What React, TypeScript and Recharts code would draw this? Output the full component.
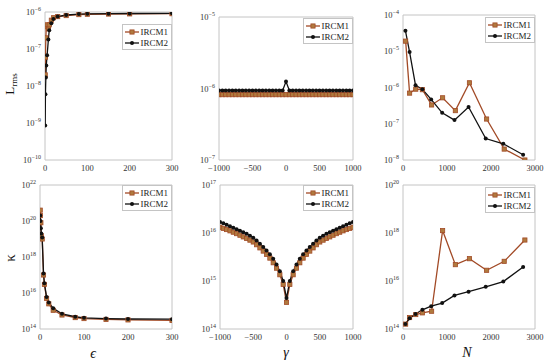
import React from "react"
import { LineChart, Line, XAxis, YAxis, ReferenceArea } from "recharts"

const FONT = "'Liberation Serif', 'Times New Roman', serif"
const C1 = "#a24a26"
const C1_FILL = "#b07a3e"
const C2 = "#111111"
const BOX = "#c4c4c4"

// epsilon sweep (left column)
const epsValues = [0.5, 1, 2, 3, 5, 8, 10, 15, 20, 30, 50, 80, 100, 150, 200, 300]
const lrmsEpsIRCM1 = [2e-8, 6e-8, 2e-7, 4e-7, 4.5e-7, 3.5e-7, 4.5e-7, 6e-7, 7e-7, 7.5e-7, 8e-7, 8.5e-7, 8.7e-7, 8.8e-7, 8.9e-7, 9e-7]
const lrmsEpsIRCM2 = [8.5e-10, 6e-9, 1.7e-8, 3.6e-8, 6.8e-8, 1.8e-7, 3.2e-7, 5e-7, 6.5e-7, 7.5e-7, 8.3e-7, 8.8e-7, 8.9e-7, 9e-7, 9.1e-7, 9.2e-7]
const kappaEpsIRCM1 = [4e20, 2e20, 8e19, 1.5e19, 1e19, 1e17, 3e16, 5e15, 2.5e15, 1.1e15, 6e14, 4.3e14, 3.8e14, 3.4e14, 3.2e14, 3e14]
const kappaEpsIRCM2 = [2e20, 1e20, 4e19, 2e19, 1.2e19, 1.2e17, 3.5e16, 6e15, 3e15, 1.4e15, 7e14, 4.8e14, 4.2e14, 3.8e14, 3.6e14, 3.5e14]

// gamma sweep (middle column)
const gammaValues = [
  -1000, -950, -900, -850, -800, -750, -700, -650, -600, -550, -500, -450, -400, -350, -300, -250, -200, -150, -100, -50,
  0, 50, 100, 150, 200, 250, 300, 350, 400, 450, 500, 550, 600, 650, 700, 750, 800, 850, 900, 950, 1000,
]
const lrmsGammaIRCM1 = [
  8.2e-7, 8.2e-7, 8.2e-7, 8.2e-7, 8.2e-7, 8.2e-7, 8.2e-7, 8.2e-7, 8.2e-7, 8.2e-7, 8.2e-7, 8.2e-7, 8.2e-7, 8.2e-7, 8.2e-7, 8.2e-7, 8.2e-7, 8.2e-7, 8.2e-7, 8.2e-7,
  8.2e-7, 8.2e-7, 8.2e-7, 8.2e-7, 8.2e-7, 8.2e-7, 8.2e-7, 8.2e-7, 8.2e-7, 8.2e-7, 8.2e-7, 8.2e-7, 8.2e-7, 8.2e-7, 8.2e-7, 8.2e-7, 8.2e-7, 8.2e-7, 8.2e-7, 8.2e-7, 8.2e-7,
]
const lrmsGammaIRCM2 = [
  9.4e-7, 9.4e-7, 9.4e-7, 9.4e-7, 9.4e-7, 9.4e-7, 9.4e-7, 9.4e-7, 9.4e-7, 9.4e-7, 9.4e-7, 9.4e-7, 9.4e-7, 9.4e-7, 9.4e-7, 9.4e-7, 9.4e-7, 9.4e-7, 9.4e-7, 9.4e-7,
  1.25e-6, 9.4e-7, 9.4e-7, 9.4e-7, 9.4e-7, 9.4e-7, 9.4e-7, 9.4e-7, 9.4e-7, 9.4e-7, 9.4e-7, 9.4e-7, 9.4e-7, 9.4e-7, 9.4e-7, 9.4e-7, 9.4e-7, 9.4e-7, 9.4e-7, 9.4e-7, 9.4e-7,
]
const kappaGammaIRCM1 = [
  1.32e16, 1.25e16, 1.18e16, 1.11e16, 1.04e16, 9.7e15, 9e15, 8.3e15, 7.7e15, 7.1e15, 6.5e15, 5.7e15, 4.9e15, 4.2e15, 3.6e15, 3e15, 2.4e15, 1.85e15, 1.35e15, 8.5e14,
  3.6e14, 8.5e14, 1.35e15, 1.85e15, 2.4e15, 3e15, 3.6e15, 4.2e15, 4.9e15, 5.7e15, 6.5e15, 7.1e15, 7.7e15, 8.3e15, 9e15, 9.7e15, 1.04e16, 1.11e16, 1.18e16, 1.25e16, 1.32e16,
]
const kappaGammaIRCM2 = [
  1.7e16, 1.59e16, 1.48e16, 1.38e16, 1.29e16, 1.2e16, 1.12e16, 1.04e16, 9.6e15, 8.8e15, 8e15, 7e15, 6e15, 5.1e15, 4.3e15, 3.6e15, 2.9e15, 2.2e15, 1.6e15, 1e15,
  4.4e14, 1e15, 1.6e15, 2.2e15, 2.9e15, 3.6e15, 4.3e15, 5.1e15, 6e15, 7e15, 8e15, 8.8e15, 9.6e15, 1.04e16, 1.12e16, 1.2e16, 1.29e16, 1.38e16, 1.48e16, 1.59e16, 1.7e16,
]

// N sweep (right column)
const nValuesIRCM1 = [60, 150, 290, 440, 650, 900, 1190, 1510, 1900, 2300, 2770]
const nValuesIRCM2 = [55, 150, 285, 440, 640, 890, 1170, 1490, 1880, 2280, 2730]
const lrmsNIRCM1 = [1.9e-5, 7e-7, 9e-7, 8.7e-7, 3.3e-7, 5.2e-7, 2.3e-7, 1.35e-6, 1.35e-7, 2e-8, 1e-8]
const lrmsNIRCM2 = [3.7e-5, 9.5e-6, 1.15e-6, 9e-7, 4.7e-7, 2e-7, 1.26e-7, 2.9e-7, 3.9e-8, 2.8e-8, 1.4e-8]
const kappaNIRCM1 = [1.6e14, 3e14, 4e14, 4.7e14, 5.5e14, 1.26e18, 4.8e16, 8.5e16, 2.8e16, 6.6e16, 5.1e17]
const kappaNIRCM2 = [1.6e14, 2.8e14, 4.2e14, 6.3e14, 8.9e14, 1.2e15, 2.5e15, 3.6e15, 5.7e15, 9.5e15, 3.8e16]

const zip = (xs: number[], ys: number[]) => xs.map((x, i) => ({ x, y: ys[i] }))

type PanelDef = {
  box: [number, number, number, number]
  xDomain: [number, number]
  xTicks: number[]
  yTicks: number[]
  s1: { x: number; y: number }[]
  s2: { x: number; y: number }[]
  legendTop: number
}

const panels: PanelDef[] = [
  {
    box: [45, 12, 172, 160],
    xDomain: [0, 300],
    xTicks: [0, 100, 200, 300],
    yTicks: [1e-10, 1e-9, 1e-8, 1e-7, 1e-6],
    s1: zip(epsValues, lrmsEpsIRCM1),
    s2: zip(epsValues, lrmsEpsIRCM2),
    legendTop: 24,
  },
  {
    box: [219, 17, 353, 160],
    xDomain: [-1000, 1000],
    xTicks: [-1000, -500, 0, 500, 1000],
    yTicks: [1e-7, 1e-6, 1e-5],
    s1: zip(gammaValues, lrmsGammaIRCM1),
    s2: zip(gammaValues, lrmsGammaIRCM2),
    legendTop: 18,
  },
  {
    box: [403, 15, 535, 160],
    xDomain: [0, 3000],
    xTicks: [0, 1000, 2000, 3000],
    yTicks: [1e-8, 1e-7, 1e-6, 1e-5, 1e-4],
    s1: zip(nValuesIRCM1, lrmsNIRCM1),
    s2: zip(nValuesIRCM2, lrmsNIRCM2),
    legendTop: 17,
  },
  {
    box: [40, 185, 172, 329],
    xDomain: [0, 300],
    xTicks: [0, 100, 200, 300],
    yTicks: [1e14, 1e16, 1e18, 1e20, 1e22],
    s1: zip(epsValues, kappaEpsIRCM1),
    s2: zip(epsValues, kappaEpsIRCM2),
    legendTop: 185,
  },
  {
    box: [220, 185, 353, 329],
    xDomain: [-1000, 1000],
    xTicks: [-1000, -500, 0, 500, 1000],
    yTicks: [1e14, 1e15, 1e16, 1e17],
    s1: zip(gammaValues, kappaGammaIRCM1),
    s2: zip(gammaValues, kappaGammaIRCM2),
    legendTop: 185,
  },
  {
    box: [403, 185, 535, 329],
    xDomain: [0, 3000],
    xTicks: [0, 1000, 2000, 3000],
    yTicks: [1e14, 1e16, 1e18, 1e20],
    s1: zip(nValuesIRCM1, kappaNIRCM1),
    s2: zip(nValuesIRCM2, kappaNIRCM2),
    legendTop: 187,
  },
]

function LogTick(props: any) {
  const { x, y, payload } = props
  const e = Math.round(Math.log10(payload.value))
  return (
    <text x={x} y={y} dy={3} textAnchor="end" fontFamily={FONT} fontSize={8.5} fill="#333">
      10<tspan dy={-4} fontSize={6}>{e < 0 ? `−${-e}` : e}</tspan>
    </text>
  )
}

function XTick(props: any) {
  const { x, y, payload } = props
  const v = payload.value < 0 ? `−${-payload.value}` : `${payload.value}`
  return (
    <text x={x} y={y} dy={7} textAnchor="middle" fontFamily={FONT} fontSize={8.5} fill="#333">
      {v}
    </text>
  )
}

const squareDot = (p: any) => (
  <rect key={`sq-${p.index}`} x={p.cx - 2.1} y={p.cy - 2.1} width={4.2} height={4.2} fill={C1_FILL} stroke={C1} strokeWidth={0.8} />
)
const circleDot = (p: any) => <circle key={`ci-${p.index}`} cx={p.cx} cy={p.cy} r={2} fill={C2} />

function LegendBox({ right, top }: { right: number; top: number }) {
  const row = { display: "flex", alignItems: "center", height: 11 }
  return (
    <div
      style={{
        position: "absolute",
        right,
        top,
        border: `1px solid ${BOX}`,
        background: "#fff",
        padding: "1px 3px 1px 1px",
        fontFamily: FONT,
        fontSize: 9,
        color: "#222",
      }}
    >
      <div style={row}>
        <svg width={16} height={8}>
          <line x1={1} y1={4} x2={15} y2={4} stroke={C1} strokeWidth={1.3} />
          <rect x={5.9} y={1.9} width={4.2} height={4.2} fill={C1_FILL} stroke={C1} strokeWidth={0.8} />
        </svg>
        <span>IRCM1</span>
      </div>
      <div style={row}>
        <svg width={16} height={8}>
          <line x1={1} y1={4} x2={15} y2={4} stroke={C2} strokeWidth={1.3} />
          <circle cx={8} cy={4} r={2} fill={C2} />
        </svg>
        <span>IRCM2</span>
      </div>
    </div>
  )
}

function Panel({ p }: { p: PanelDef }) {
  const [L, T, R, B] = p.box
  const padL = 40
  const padT = 10
  const padR = 10
  const padB = 24
  const yDomain: [number, number] = [p.yTicks[0], p.yTicks[p.yTicks.length - 1]]
  return (
    <>
      <div style={{ position: "absolute", left: L - padL, top: T - padT }}>
        <LineChart
          width={R - L + padL + padR}
          height={B - T + padT + padB}
          margin={{ top: padT, right: padR, left: 0, bottom: 0 }}
        >
          <XAxis
            dataKey="x"
            type="number"
            domain={p.xDomain}
            ticks={p.xTicks}
            allowDataOverflow
            axisLine={false}
            tickLine={false}
            tickSize={2}
            tickMargin={2}
            height={padB}
            tick={<XTick />}
            interval={0}
          />
          <YAxis
            type="number"
            scale="log"
            domain={yDomain}
            ticks={p.yTicks}
            allowDataOverflow
            axisLine={false}
            tickLine={false}
            tickSize={2}
            tickMargin={2}
            width={padL}
            tick={<LogTick />}
            interval={0}
          />
          <ReferenceArea
            x1={p.xDomain[0]}
            x2={p.xDomain[1]}
            y1={yDomain[0]}
            y2={yDomain[1]}
            fill="#fff"
            fillOpacity={0}
            stroke={BOX}
            strokeWidth={1}
            ifOverflow="visible"
          />
          <Line
            data={p.s1}
            dataKey="y"
            type="linear"
            stroke={C1}
            strokeWidth={1.3}
            dot={squareDot}
            activeDot={false}
            isAnimationActive={false}
          />
          <Line
            data={p.s2}
            dataKey="y"
            type="linear"
            stroke={C2}
            strokeWidth={1.3}
            dot={circleDot}
            activeDot={false}
            isAnimationActive={false}
          />
        </LineChart>
      </div>
      <LegendBox right={550 - R} top={p.legendTop} />
    </>
  )
}

export default function App() {
  return (
    <div style={{ position: "absolute", left: 0, top: 0, width: 550, height: 363, background: "#fff", overflow: "hidden" }}>
      {panels.map((p, i) => (
        <Panel key={i} p={p} />
      ))}
      <svg width={550} height={363} style={{ position: "absolute", left: 0, top: 0, pointerEvents: "none" }}>
        <g fontFamily={FONT} fill="#111">
          <text transform="translate(14,84) rotate(-90)" textAnchor="middle" fontSize={13}>
            L<tspan fontSize={9} dy={3}>rms</tspan>
          </text>
          <text transform="translate(15,258) rotate(-90)" textAnchor="middle" fontSize={15}>
            κ
          </text>
          <text x={93} y={358} textAnchor="middle" fontSize={14} fontStyle="italic">
            ϵ
          </text>
          <text x={286} y={357} textAnchor="middle" fontSize={14} fontStyle="italic">
            γ
          </text>
          <text x={467} y={357} textAnchor="middle" fontSize={14} fontStyle="italic">
            N
          </text>
        </g>
      </svg>
    </div>
  )
}
